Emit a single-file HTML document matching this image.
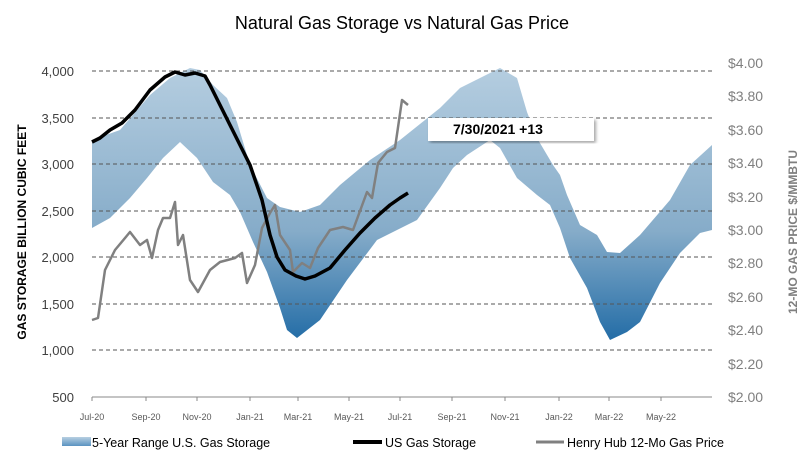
<!DOCTYPE html>
<html><head><style>body{margin:0;background:#fff}</style></head><body>
<svg width="804" height="466" xmlns="http://www.w3.org/2000/svg" font-family="Liberation Sans, sans-serif">
<defs>
<linearGradient id="bg" x1="0" y1="60" x2="0" y2="345" gradientUnits="userSpaceOnUse">
<stop offset="0" stop-color="#b7cfe1"/><stop offset="0.6" stop-color="#86acc9"/><stop offset="1" stop-color="#1f6aa5"/>
</linearGradient>
<linearGradient id="lg" x1="0" y1="0" x2="0" y2="1"><stop offset="0" stop-color="#b7cfe1"/><stop offset="1" stop-color="#5a93c1"/></linearGradient>
<filter id="sh"><feDropShadow dx="2" dy="2" stdDeviation="1.5" flood-opacity="0.35"/></filter>
</defs>
<text x="402" y="29" text-anchor="middle" font-size="18" fill="#000">Natural Gas Storage vs Natural Gas Price</text>
<path d="M92,140 L120,130 L150,95 L170,78 L190,68 L200,70 L213,85 L227,98 L237,122 L250,165 L267,198 L280,207 L300,212 L320,205 L340,185 L370,160 L400,140 L440,108 L460,88 L500,68 L517,78 L527,112 L537,138 L553,165 L560,175 L567,195 L580,225 L597,235 L607,252 L620,253 L640,235 L670,200 L690,165 L712,145 L712,230 L700,233 L680,253 L660,283 L640,322 L627,332 L610,340 L600,322 L587,288 L570,258 L560,228 L550,205 L537,195 L517,178 L500,148 L490,140 L467,155 L453,168 L440,188 L417,220 L377,240 L347,280 L320,320 L297,338 L287,330 L280,308 L267,272 L253,242 L240,212 L230,195 L213,182 L197,158 L180,142 L163,158 L147,178 L130,198 L110,218 L92,228 Z" fill="url(#bg)"/>
<g stroke="#555" stroke-dasharray="4,3" stroke-width="1">
<line x1="92" y1="71" x2="712" y2="71"/><line x1="92" y1="118" x2="712" y2="118"/><line x1="92" y1="164" x2="712" y2="164"/><line x1="92" y1="211" x2="712" y2="211"/><line x1="92" y1="257" x2="712" y2="257"/><line x1="92" y1="304" x2="712" y2="304"/><line x1="92" y1="350" x2="712" y2="350"/>
</g>
<line x1="92" y1="397" x2="712" y2="397" stroke="#888"/>
<g stroke="#888"><line x1="92" y1="397" x2="92" y2="401"/><line x1="146" y1="397" x2="146" y2="401"/><line x1="197" y1="397" x2="197" y2="401"/><line x1="250" y1="397" x2="250" y2="401"/><line x1="298" y1="397" x2="298" y2="401"/><line x1="349" y1="397" x2="349" y2="401"/><line x1="400" y1="397" x2="400" y2="401"/><line x1="452" y1="397" x2="452" y2="401"/><line x1="505" y1="397" x2="505" y2="401"/><line x1="559" y1="397" x2="559" y2="401"/><line x1="609" y1="397" x2="609" y2="401"/><line x1="661" y1="397" x2="661" y2="401"/></g>
<polyline fill="none" stroke="#808080" stroke-width="2.5" stroke-linejoin="round" points="92,320 98,318 105,270 115,250 130,232 140,245 147,240 152,258 158,230 163,218 170,218 175,202 178,245 183,235 190,280 198,292 210,270 220,262 235,258 242,253 247,283 255,265 262,228 270,213 275,205 280,235 290,250 293,272 302,263 310,268 318,248 330,230 343,227 353,230 367,192 372,198 378,163 387,152 395,148 402,100 408,105"/>
<polyline fill="none" stroke="#000" stroke-width="3.5" stroke-linejoin="round" points="92,142 100,138 110,130 122,123 135,110 150,90 165,77 175,72 185,75 195,73 205,76 210,85 220,105 235,135 250,165 262,200 270,235 277,257 285,270 296,276 305,279 315,276 330,268 345,250 360,233 375,218 390,205 400,198 408,193"/>
<rect x="428" y="118" width="166" height="23" fill="#fff" filter="url(#sh)"/>
<text x="453" y="134" font-size="14" font-weight="bold">7/30/2021  +13</text>
<g font-size="13" fill="#404040" text-anchor="end">
<text x="74" y="76">4,000</text><text x="74" y="123">3,500</text><text x="74" y="169">3,000</text><text x="74" y="216">2,500</text><text x="74" y="262">2,000</text><text x="74" y="309">1,500</text><text x="74" y="355">1,000</text><text x="74" y="402">500</text>
</g>
<g font-size="14" fill="#7f7f7f">
<text x="728" y="68">$4.00</text><text x="728" y="101">$3.80</text><text x="728" y="135">$3.60</text><text x="728" y="168">$3.40</text><text x="728" y="202">$3.20</text><text x="728" y="235">$3.00</text><text x="728" y="268">$2.80</text><text x="728" y="302">$2.60</text><text x="728" y="335">$2.40</text><text x="728" y="369">$2.20</text><text x="728" y="402">$2.00</text>
</g>
<text transform="translate(26,232) rotate(-90)" text-anchor="middle" font-size="12" font-weight="bold" fill="#000">GAS STORAGE BILLION CUBIC FEET</text>
<text transform="translate(797,232) rotate(-90)" text-anchor="middle" font-size="12" font-weight="bold" fill="#7f7f7f">12-MO GAS PRICE $/MMBTU</text>
<g font-size="9" fill="#595959" text-anchor="middle">
<text x="92" y="420">Jul-20</text><text x="146" y="420">Sep-20</text><text x="197" y="420">Nov-20</text><text x="250" y="420">Jan-21</text><text x="298" y="420">Mar-21</text><text x="349" y="420">May-21</text><text x="400" y="420">Jul-21</text><text x="452" y="420">Sep-21</text><text x="505" y="420">Nov-21</text><text x="559" y="420">Jan-22</text><text x="609" y="420">Mar-22</text><text x="661" y="420">May-22</text>
</g>
<rect x="62" y="437" width="29" height="9" fill="url(#lg)"/>
<text x="92" y="447" font-size="12.5" fill="#000">5-Year Range U.S. Gas Storage</text>
<line x1="353" y1="442" x2="382" y2="442" stroke="#000" stroke-width="4"/>
<text x="385" y="447" font-size="12.5" fill="#000">US Gas Storage</text>
<line x1="536" y1="442" x2="564" y2="442" stroke="#808080" stroke-width="3"/>
<text x="567" y="447" font-size="12.5" fill="#000">Henry Hub 12-Mo Gas Price</text>
</svg>
</body></html>
